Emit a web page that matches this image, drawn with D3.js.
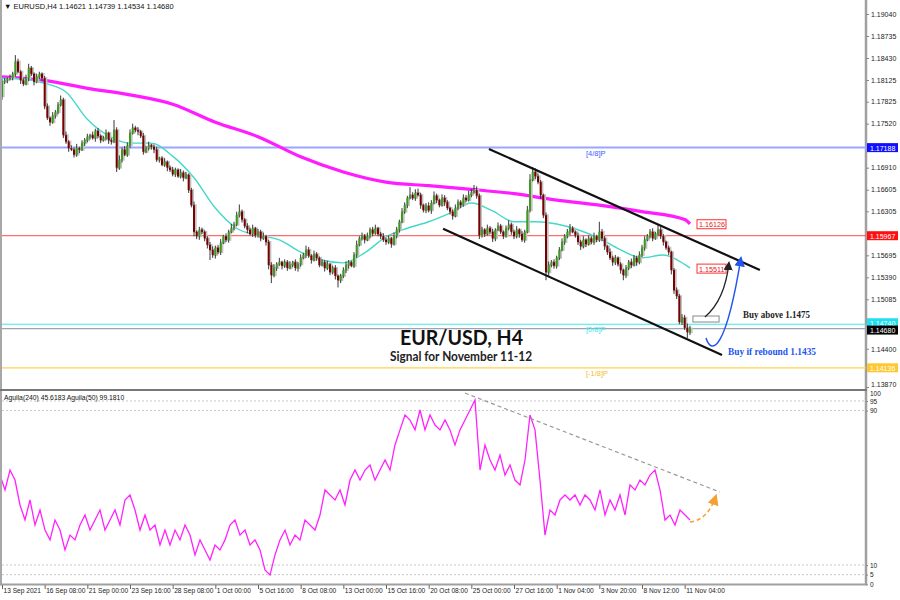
<!DOCTYPE html>
<html><head><meta charset="utf-8">
<script src="https://cdn.jsdelivr.net/npm/d3@7"></script>
<style>
body{margin:0;background:#fff}
svg text{font-family:"Liberation Sans",Arial,sans-serif}
</style>
</head><body>
<svg id="c" width="900" height="600"></svg>
<script>
// ---------- DATA ----------
const firstOpen = 1.1790;
const closes = [
1.1810,1.1812,1.1814,1.1815,1.1821,1.1838,1.1824,1.1812,1.1807,1.1815,1.1829,1.1821,1.1810,1.1817,1.1821,1.1815,
1.1776,1.1760,1.1754,1.1763,1.1768,1.1778,1.1785,1.1736,1.1727,1.1718,1.1716,1.1709,1.1718,1.1716,1.1725,1.1729,
1.1734,1.1736,1.1732,1.1742,1.1735,1.1729,1.1732,1.1739,1.1729,1.1727,1.1743,1.1691,1.1702,1.1716,1.1709,1.1722,
1.1739,1.1746,1.1743,1.1741,1.1735,1.1713,1.1718,1.1722,1.1720,1.1716,1.1702,1.1704,1.1695,1.1699,1.1691,1.1688,
1.1682,1.1688,1.1679,1.1684,1.1677,1.1681,1.1660,1.1639,1.1602,1.1596,1.1605,1.1602,1.1593,1.1584,1.1577,1.1570,
1.1580,1.1574,1.1587,1.1596,1.1591,1.1602,1.1607,1.1612,1.1625,1.1630,1.1619,1.1610,1.1605,1.1599,1.1607,1.1597,
1.1602,1.1593,1.1596,1.1588,1.1556,1.1542,1.1552,1.1557,1.1560,1.1555,1.1560,1.1552,1.1556,1.1560,1.1552,1.1557,
1.1566,1.1570,1.1577,1.1569,1.1563,1.1571,1.1566,1.1556,1.1560,1.1552,1.1557,1.1546,1.1552,1.1541,1.1535,1.1541,
1.1549,1.1556,1.1560,1.1555,1.1570,1.1584,1.1593,1.1597,1.1591,1.1596,1.1605,1.1600,1.1607,1.1599,1.1596,1.1591,
1.1588,1.1593,1.1585,1.1596,1.1605,1.1616,1.1630,1.1639,1.1649,1.1653,1.1649,1.1656,1.1653,1.1639,1.1632,1.1638,
1.1632,1.1642,1.1652,1.1646,1.1639,1.1649,1.1643,1.1635,1.1630,1.1624,1.1635,1.1643,1.1639,1.1649,1.1646,1.1653,
1.1657,1.1660,1.1652,1.1597,1.1605,1.1599,1.1607,1.1602,1.1593,1.1605,1.1610,1.1602,1.1596,1.1607,1.1612,1.1602,
1.1596,1.1605,1.1599,1.1591,1.1602,1.1632,1.1674,1.1685,1.1679,1.1671,1.1653,1.1625,1.1546,1.1556,1.1560,1.1555,
1.1566,1.1577,1.1588,1.1596,1.1602,1.1607,1.1602,1.1597,1.1588,1.1582,1.1591,1.1585,1.1593,1.1588,1.1596,1.1591,
1.1602,1.1593,1.1582,1.1574,1.1566,1.1560,1.1566,1.1557,1.1549,1.1542,1.1552,1.1560,1.1556,1.1566,1.1560,1.1570,
1.1580,1.1591,1.1596,1.1602,1.1593,1.1599,1.1605,1.1596,1.1588,1.1580,1.1574,1.1549,1.1521,1.1513,1.1477,1.1483,
1.1469,1.1463,1.1468];
// wick extensions in pips above / below the body
const hiWick = [
4,3,2,5,3,9,4,2,3,5,6,3,2,4,3,2, 3,4,2,5,3,4,6,3,5,2,4,3,6,2,4,3,
4,2,5,3,4,2,3,5,2,3,14,4,6,3,5,4, 5,6,3,4,2,4,3,5,2,3,4,2,3,5,2,3,
4,3,2,5,3,4,2,3,5,2,4,3,2,3,4,5, 3,4,5,2,4,3,6,4,5,10,3,2,4,3,5,2,
4,3,5,2,3,4,5,3,6,2,4,3,5,2,4,3, 5,3,6,4,2,5,3,2,4,3,5,2,3,4,2,3,
4,5,3,2,4,6,3,4,2,5,3,4,5,2,3,4, 3,4,2,5,4,3,5,4,3,11,4,5,6,3,2,4,
5,4,6,3,2,5,4,3,2,3,5,4,3,5,4,6, 4,7,5,3,4,2,5,3,4,2,5,3,2,4,6,3,
3,5,2,4,3,6,8,7,5,4,3,2,4,5,3,4, 3,4,5,3,4,6,3,2,4,3,5,2,4,3,5,2,
14,4,3,2,5,3,4,2,3,2,4,3,5,4,3,5, 4,5,3,4,5,3,7,4,3,2,3,2,3,4,3,5,
4,6,4];
const loWick = [
5,3,4,2,3,4,2,5,3,2,4,3,5,2,3,4, 4,3,5,2,4,3,2,4,3,5,2,4,3,5,2,4,
3,4,2,5,3,4,2,3,5,4,2,6,3,4,2,3, 4,2,3,5,3,4,2,3,4,5,3,4,2,3,5,3,
3,4,2,3,5,2,4,3,6,4,5,3,4,5,14,4, 5,3,4,2,3,4,2,3,2,3,4,3,5,2,4,3,
3,4,2,5,6,11,3,4,2,5,3,4,2,3,4,5, 3,2,4,3,5,2,4,3,2,5,3,4,3,5,10,4,
3,4,5,2,3,4,2,3,5,2,3,4,2,3,4,3, 4,3,5,2,3,4,2,3,4,2,3,4,2,5,3,4,
3,5,2,4,3,2,5,3,4,5,2,3,4,2,3,2, 3,2,4,5,3,4,2,3,5,4,2,3,4,2,3,4,
4,3,5,3,4,2,3,2,4,3,5,4,11,5,3,4, 4,3,2,4,3,5,2,3,4,5,3,4,2,3,4,3,
3,4,5,4,3,5,4,3,5,7,4,3,4,2,5,3, 3,4,2,3,4,2,3,4,5,3,4,6,5,4,3,4,
3,8,4];
// slow MA (magenta) sampled every 16 bars + last bar
const maSlow = [1.1817,1.1812,1.1801,1.1792,1.1779,1.1754,1.1734,1.1706,1.1685,1.1671,1.1666,1.1661,1.1655,1.1646,1.1639,1.1630,1.1619,1.1613];
// fast MA (cyan) sampled every 8 bars + last bar
const maFast = [1.1815,1.1814,1.1808,1.1796,1.1758,1.1735,1.1725,1.1725,1.1707,1.1677,1.1635,1.1607,1.1597,1.1591,1.1574,1.1563,1.1559,1.1573,1.1595,1.1607,1.1616,1.1628,1.1642,1.1631,1.1616,1.1616,1.1613,1.1605,1.1593,1.1577,1.1566,1.1570,1.1557,1.1552];
const maLabels = [1.16126, 1.15511];
// oscillator (Aguila) values, evenly spread over the bars
const indicator = [56.6,48.9,59.2,54.0,41.1,33.3,43.7,30.7,38.5,28.1,
23.0,33.3,28.1,17.8,25.5,23.0,30.7,35.9,28.1,33.3,
38.5,28.1,33.3,38.5,30.7,43.7,46.3,38.5,28.1,35.9,
28.1,30.7,20.4,28.1,20.4,28.1,23.0,30.7,25.5,15.2,
23.0,17.8,12.6,20.4,17.8,23.0,30.7,33.3,25.5,28.1,
20.4,23.0,17.8,7.4,4.8,15.2,23.0,28.1,20.4,25.5,
23.0,33.3,30.7,28.1,35.9,48.9,46.3,43.7,48.9,41.1,
54.0,59.2,54.0,59.2,61.8,54.0,59.2,64.4,59.2,72.2,
80.0,87.7,85.1,80.0,90.3,80.0,87.7,82.5,80.0,85.1,
80.0,72.2,80.0,85.1,90.3,95.5,59.2,72.2,64.4,59.2,
67.0,56.6,61.8,54.0,51.5,64.4,87.7,80.0,54.0,25.5,
38.5,35.9,43.7,46.3,43.7,46.3,41.1,46.3,43.7,38.5,
48.9,35.9,43.7,38.5,46.3,35.9,51.5,48.9,54.0,51.5,
56.6,59.2,48.9,33.3,35.9,30.7,38.5,35.9,33.3];
const priceTicks = [1.19040,1.18735,1.18430,1.18125,1.17825,1.17520,1.16910,1.16605,1.16305,1.15695,1.15390,1.15085,1.14400,1.13870];
const levelValues = [1.17188,1.15967,1.14740,1.14680,1.14136];
const levelNames = ["[4/8]P", null, "[0/8]P", null, "[-1/8]P"];
const timeLabels = ["13 Sep 2021","16 Sep 08:00","21 Sep 00:00","23 Sep 16:00","28 Sep 08:00","1 Oct 00:00","5 Oct 16:00","8 Oct 08:00","13 Oct 00:00","15 Oct 16:00","20 Oct 08:00","25 Oct 00:00","27 Oct 16:00","1 Nov 04:00","3 Nov 20:00","8 Nov 12:00","11 Nov 04:00"];
const indLevels = [95,90,10,5];
const indTicks = [95,90,10,5,0];
// annotations in (bar, price)
const upperChannel = [[182.6,1.17169],[284.2,1.15492]];
const lowerChannel = [[165.4,1.16063],[270.0,1.14314]];
const buyBox = [[259.1,1.14854],[268.9,1.14771]];
const indTrend = [[173.6,99.1],[269.2,47.8]];

// ---------- SCALES ----------
const svg = d3.select("#c");
const N = closes.length;
const x = d3.scaleLinear().domain([0, N-1]).range([2, 690]);
const y = d3.scaleLinear().domain([1.13870, 1.19040]).range([387, 14]);
const yi = d3.scaleLinear().domain([0, 100]).range([584.3, 391.3]);

const defs = svg.append("defs");
defs.append("clipPath").attr("id","mainClip").append("rect").attr("x",2).attr("y",0).attr("width",864).attr("height",389);
defs.append("clipPath").attr("id","indClip").append("rect").attr("x",2).attr("y",391).attr("width",864).attr("height",193);
function marker(id,color){
  defs.append("marker").attr("id",id).attr("viewBox","0 0 10 10").attr("refX",8).attr("refY",5)
    .attr("markerWidth",7).attr("markerHeight",7).attr("orient","auto-start-reverse")
    .append("path").attr("d","M0,0 L10,5 L0,10 z").attr("fill",color);
}
marker("arBlack","#222"); marker("arBlue","#2255ee"); marker("arOrange","#f5a030");

// frame
svg.append("rect").attr("x",0).attr("y",0).attr("width",2).attr("height",584).attr("fill","#a8a8a8");
svg.append("line").attr("x1",866).attr("x2",866).attr("y1",0).attr("y2",585).attr("stroke","#a0a0a0").attr("stroke-width",2.5);
svg.append("line").attr("x1",0).attr("x2",867).attr("y1",390).attr("y2",390).attr("stroke","#777").attr("stroke-width",2);
svg.append("line").attr("x1",0).attr("x2",867).attr("y1",584.5).attr("y2",584.5).attr("stroke","#a0a0a0").attr("stroke-width",2);

const main = svg.append("g").attr("clip-path","url(#mainClip)");

// horizontal levels
const levelColors = ["#9aa6ff","#ff4a4a","#3ae8f0","#9aa4b4","#ffd050"];
const levelWidths = [2,1,1,1.2,1.2];
levelValues.forEach((v,i)=>{
  main.append("line").attr("x1",2).attr("x2",866).attr("y1",y(v)).attr("y2",y(v))
    .attr("stroke",levelColors[i]).attr("stroke-width",levelWidths[i]);
});
const nameColors = ["#3a5cff",null,"#3ae8f0",null,"#f0c030"];
levelNames.forEach((n,i)=>{
  if(!n) return;
  main.append("text").attr("x",586).attr("y",y(levelValues[i])+8).attr("font-size",7.5)
    .attr("fill",nameColors[i]).text(n);
});

// moving averages
const slowBars = d3.range(0, N-1, 16).concat([N-1]);
const fastBars = d3.range(0, N-1, 8).concat([N-1]);
const maLine = d3.line().curve(d3.curveMonotoneX);
main.append("path").attr("d", maLine(maSlow.map((v,i)=>[x(slowBars[i]), y(v)])))
  .attr("fill","none").attr("stroke","#ff1cff").attr("stroke-width",3.2);
main.append("path").attr("d", maLine(maFast.map((v,i)=>[x(fastBars[i]), y(v)])))
  .attr("fill","none").attr("stroke","#45d8c8").attr("stroke-width",1.4);

// candles
const candles = closes.map((c,i)=>{
  const o = i===0 ? firstOpen : closes[i-1];
  return {i, o, c, h: Math.max(o,c)+hiWick[i]*0.0001, l: Math.min(o,c)-loWick[i]*0.0001};
});
const cg = main.append("g");
cg.selectAll(".ghost").data(candles).join("rect")
  .attr("x", d=>x(d.i)-0.3).attr("width",3)
  .attr("y", d=>y(Math.max(d.o,d.c))-1).attr("height", d=>Math.abs(y(d.o)-y(d.c))+2)
  .attr("fill","#c4c4c4");
cg.selectAll(".wick").data(candles).join("line")
  .attr("x1", d=>x(d.i)).attr("x2", d=>x(d.i))
  .attr("y1", d=>y(d.h)).attr("y2", d=>y(d.l))
  .attr("stroke","#222").attr("stroke-width",0.9);
cg.selectAll(".body").data(candles).join("rect")
  .attr("x", d=>x(d.i)-1).attr("width",2)
  .attr("y", d=>y(Math.max(d.o,d.c))).attr("height", d=>Math.max(1, Math.abs(y(d.o)-y(d.c))))
  .attr("fill", d=> d.c>=d.o ? "#3f9a22" : "#7a0000");

// channel lines
[upperChannel, lowerChannel].forEach(ch=>{
  main.append("line").attr("x1",x(ch[0][0])).attr("y1",y(ch[0][1]))
    .attr("x2",x(ch[1][0])).attr("y2",y(ch[1][1]))
    .attr("stroke","#111").attr("stroke-width",2.2);
});

// MA value labels
maLabels.forEach((v,i)=>{
  const yy = y(v), xx = 697;
  main.append("rect").attr("x",xx).attr("y",yy-4.5).attr("width",29).attr("height",9)
    .attr("fill","#fff").attr("stroke","#ff3030").attr("stroke-width",1);
  main.append("text").attr("x",xx+2).attr("y",yy+3).attr("font-size",7.2).attr("fill","#e02020").text(v.toFixed(5));
});

// buy box & arrows
main.append("rect").attr("x",x(buyBox[0][0])).attr("y",y(buyBox[0][1]))
  .attr("width",x(buyBox[1][0])-x(buyBox[0][0])).attr("height",y(buyBox[1][1])-y(buyBox[0][1]))
  .attr("fill","#fff").attr("stroke","#888").attr("stroke-width",1);
const bx0 = x(263.6), by0 = y(1.1484), bxc = x(271.1), byc = y(1.15076), bx1 = x(272.6), by1 = y(1.1559);
main.append("path").attr("d",`M${bx0},${by0} Q${bxc},${byc} ${bx1},${by1}`)
  .attr("fill","none").attr("stroke","#222").attr("stroke-width",1.3).attr("marker-end","url(#arBlack)");
const u0=[x(264),y(1.14549)], u1=[x(266.2),y(1.14300)], u2=[x(271.5),y(1.14383)], u3=[x(277.1),y(1.15658)];
main.append("path").attr("d",`M${u0} C${u1} ${u2} ${u3}`)
  .attr("fill","none").attr("stroke","#2255ee").attr("stroke-width",1.5).attr("marker-end","url(#arBlue)");

// texts
svg.append("text").attr("x",743).attr("y",318).attr("font-size",9.5).attr("font-weight","bold")
  .style("font-family","'Liberation Serif',serif").attr("fill","#222")
  .attr("textLength",67).attr("lengthAdjust","spacingAndGlyphs").text("Buy above 1.1475");
svg.append("text").attr("x",728).attr("y",355).attr("font-size",9.5).attr("font-weight","bold")
  .style("font-family","'Liberation Serif',serif").attr("fill","#2255ee")
  .attr("textLength",88).attr("lengthAdjust","spacingAndGlyphs").text("Buy if rebound  1.1435");
svg.append("text").attr("x",400).attr("y",345).attr("font-size",20).attr("font-weight","bold")
  .style("font-family","Lato,sans-serif").attr("fill","#111")
  .attr("textLength",123).attr("lengthAdjust","spacingAndGlyphs").text("EUR/USD, H4");
svg.append("text").attr("x",390).attr("y",361).attr("font-size",13).attr("font-weight","bold")
  .style("font-family","Lato,sans-serif").attr("fill","#222")
  .attr("textLength",142).attr("lengthAdjust","spacingAndGlyphs").text("Signal for November 11-12");

// header
svg.append("text").attr("x",4).attr("y",9).attr("font-size",7.5).attr("fill","#111")
  .text("\u25BC EURUSD,H4  1.14621 1.14739 1.14534 1.14680");

// price axis
const yAxis = d3.axisRight(y).tickValues(priceTicks).tickSize(3).tickFormat(d3.format(".5f"));
const ya = svg.append("g").attr("transform","translate(866,0)").call(yAxis);
ya.select(".domain").remove();
ya.selectAll("line").attr("stroke","#888");
ya.selectAll("text").attr("font-size",7).attr("fill","#222").attr("x",5).style("font-family","'Liberation Sans',Arial");
ya.selectAll(".tick").filter(d=>d===1.13870).select("text").attr("dy","-0.1em");

// level value boxes on axis
const boxFills = ["#1010ff","#ff1010","#20e0f0","#000","#ffc830"];
levelValues.forEach((v,i)=>{
  const off = i===2 ? -1.5 : (i===3 ? 1.5 : 0);
  svg.append("rect").attr("x",867).attr("y",y(v)-4.5+off).attr("width",31).attr("height",9).attr("fill",boxFills[i]);
  svg.append("text").attr("x",870).attr("y",y(v)+3+off).attr("font-size",7).attr("fill","#fff").text(v.toFixed(5));
});

// ---------- indicator panel ----------
const ig = svg.append("g").attr("clip-path","url(#indClip)");
indLevels.forEach(v=>{
  ig.append("line").attr("x1",2).attr("x2",866).attr("y1",yi(v)).attr("y2",yi(v))
    .attr("stroke","#c8c8c8").attr("stroke-dasharray","2,2");
});
const indBar = d3.scaleLinear().domain([0, indicator.length-1]).range([-0.75, N-1]);
ig.append("path").attr("d", d3.line()(indicator.map((v,k)=>[x(indBar(k)), yi(v)])))
  .attr("fill","none").attr("stroke","#ff22ff").attr("stroke-width",1.3);
ig.append("line").attr("x1",x(indTrend[0][0])).attr("y1",yi(indTrend[0][1]))
  .attr("x2",x(indTrend[1][0])).attr("y2",yi(indTrend[1][1]))
  .attr("stroke","#999").attr("stroke-width",1.2).attr("stroke-dasharray","4,3");
ig.append("path").attr("d",`M${x(258)},${yi(32.3)} Q${x(264.7)},${yi(33.3)} ${x(267.7)},${yi(45.8)}`)
  .attr("fill","none").attr("stroke","#f5a030").attr("stroke-width",1.6).attr("stroke-dasharray","4,3")
  .attr("marker-end","url(#arOrange)");
svg.append("text").attr("x",4).attr("y",400).attr("font-size",6.8).attr("fill","#111")
  .text("Aguila(240) 45.6183  Aguila(50) 99.1810");
const ia = svg.append("g").attr("transform","translate(866,0)")
  .call(d3.axisRight(yi).tickValues(indTicks).tickSize(2).tickFormat(d3.format("d")));
ia.select(".domain").remove();
ia.selectAll("line").attr("stroke","#888");
ia.selectAll("text").attr("font-size",6.5).attr("fill","#222").attr("x",4);
// "100" mark, partly hidden under the price panel edge
svg.append("text").attr("x",870).attr("y",yi(100)+5).attr("font-size",6.5).attr("fill","#222").text("100");

// time axis
const tickBars = timeLabels.map((_,k)=>k*16);
const xa = svg.append("g").attr("transform","translate(0,585)")
  .call(d3.axisBottom(x).tickValues(tickBars).tickSize(4).tickFormat((d,k)=>timeLabels[k]));
xa.select(".domain").remove();
xa.selectAll("line").attr("stroke","#666");
xa.selectAll("text").attr("font-size",6.6).attr("fill","#222").attr("text-anchor","start").attr("dx",1).attr("y",3).attr("dy","0.71em");
</script>
</body></html>
